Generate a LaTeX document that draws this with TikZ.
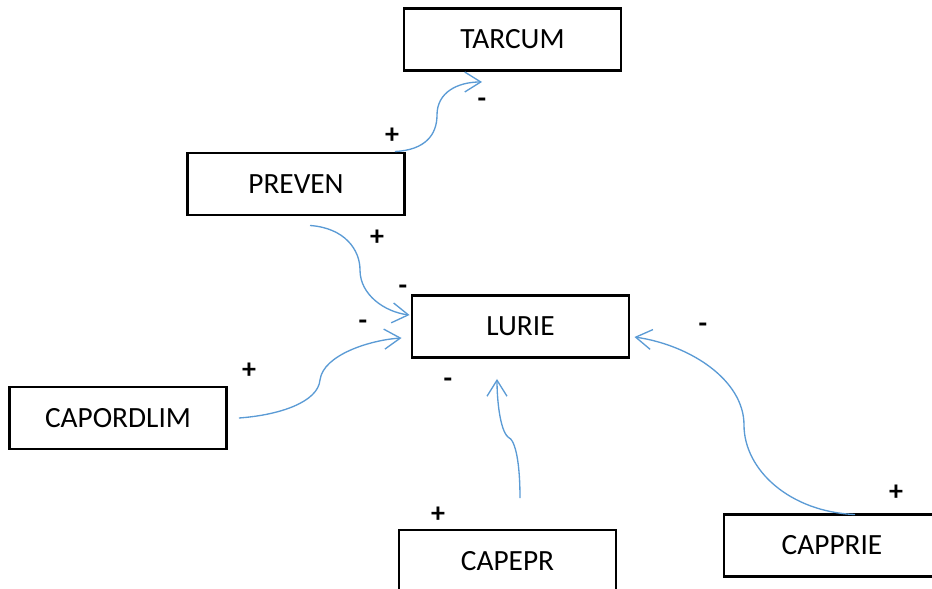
\documentclass[tikz,border=0pt]{standalone}
\usepackage{fontspec}
\setmainfont{Carlito}
\usetikzlibrary{arrows.meta}
\definecolor{linkblue}{HTML}{5B9BD5}
\tikzset{
  var/.style={draw=black, line width=2.2pt, fill=white, minimum width=162.75pt,
    minimum height=46.5pt, inner sep=0pt, font=\fontsize{22}{26}\selectfont},
  openvar/.style={var, draw=none, outer sep=0pt},
  edge stroke/.style={line width=2.2pt, line cap=rect},
  link/.style={draw=linkblue, line width=1pt,
    -{Straight Barb[length=12pt, width=15pt, line width=1pt]}},
  sign/.style={font=\bfseries\fontsize{21}{24}\selectfont, inner sep=0pt}
}
\begin{document}
\begin{tikzpicture}[x=0.75pt, y=-0.75pt]
\useasboundingbox (0,0) rectangle (932,589);

% variables
\node[var] (tarcum) at (512.5,39.5) {TARCUM};
\node[var] (preven) at (296,184) {PREVEN};
\node[var] (lurie) at (520.5,326.5) {LURIE};
\node[var] (capordlim) at (118,418) {CAPORDLIM};
% the two lower boxes run past the edge of the page, so only their
% visible sides are stroked
\node[openvar] (capepr) at (507.5,561) {CAPEPR};
\draw[edge stroke]
  (capepr.south west) -- (capepr.north west) -- (capepr.north east) -- (capepr.south east);
\node[openvar, minimum width=195pt, anchor=west,
  label={[font=\fontsize{22}{26}\selectfont, xshift=-16.5pt]center:CAPPRIE}]
  (capprie) at (724,545.5) {};
\draw[edge stroke]
  (capprie.north east) -- (capprie.north west) -- (capprie.south west) -- (capprie.south east);

% causal links
\draw[link] ([shift={(-11,0)}]preven.north east)
  .. controls (425,150) and (437,135) .. (437,115)
  .. controls (437,92) and (458,82) .. ([shift={(-30.5,10)}]tarcum.south);
\draw[link] ([shift={(14,9)}]preven.south)
  .. controls (345,228) and (360,250) .. (360,270)
  .. controls (360,295) and (385,312) .. ([shift={(-1,-11.5)}]lurie.west);
\draw[link] ([shift={(11,0)}]capordlim.east)
  .. controls (280,415) and (318,402) .. (320,380)
  .. controls (323,355) and (370,340) .. ([shift={(-9,11.5)}]lurie.west);
\draw[link] ([shift={(12.5,-32)}]capepr.north)
  .. controls (520,465) and (516,440) .. (508,437)
  .. controls (500,430) and (497,400) .. ([shift={(-23.5,20)}]lurie.south);
\draw[link] ([shift={(131,0)}]capprie.north west)
  .. controls (790,512) and (744,470) .. (744,425)
  .. controls (744,380) and (690,345) .. ([shift={(4,10.5)}]lurie.east);

% link polarities
\node[sign] (s1) at (392,136) {+};
\node[sign] (s2) at (482,103) {-};
\node[sign] (s3) at (377,238) {+};
\node[sign] (s4) at (403,290) {-};
\node[sign] (s5) at (363,325) {-};
\node[sign] (s6) at (249,371) {+};
\node[sign] (s7) at (448,383) {-};
\node[sign] (s8) at (438,515) {+};
\node[sign] (s9) at (703,328) {-};
\node[sign] (s10) at (896,493) {+};
\end{tikzpicture}
\end{document}
